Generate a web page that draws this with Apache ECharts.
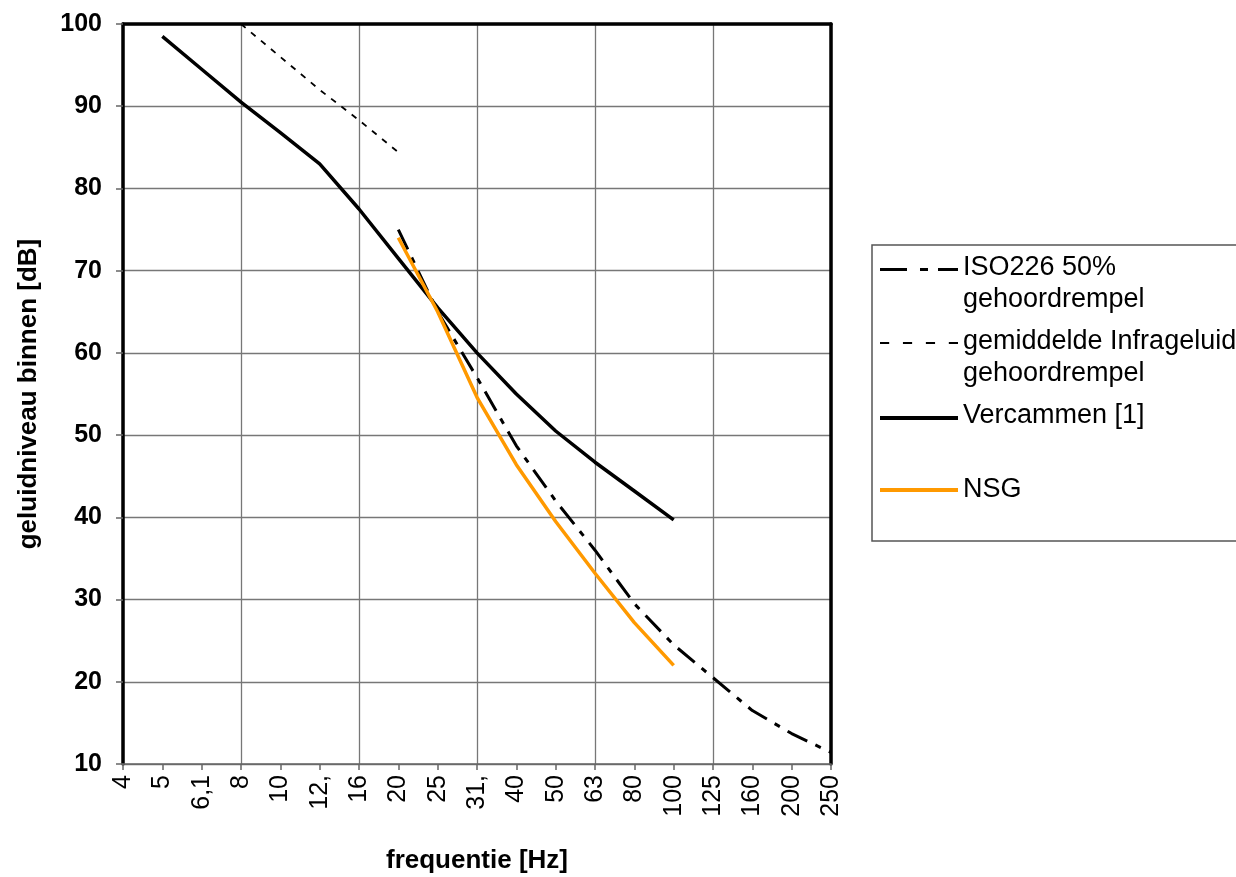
<!DOCTYPE html>
<html>
<head>
<meta charset="utf-8">
<script src="https://cdn.jsdelivr.net/npm/echarts@6/dist/echarts.min.js"></script>
<style>
html,body{margin:0;padding:0;background:#fff;}
#chart{width:1236px;height:877px;}
</style>
</head>
<body>
<div id="chart"></div>
<script>
const categories = ['4','5','6,1','8','10','12,','16','20','25','31,','40','50','63','80','100','125','160','200','250'];
const iso226 = [null,null,null,null,null,null,null,75,65,57,48.7,42,36,29.5,24.5,20.5,16.5,13.7,11.4];
const infrageluid = [null,null,null,100,96,92,88.3,84.4,null,null,null,null,null,null,null,null,null,null,null];
const vercammen = [null,98.5,94.5,90.5,86.8,83,77.5,71.5,65.5,60,55,50.5,46.7,43.2,39.7,null,null,null,null];
const nsg = [null,null,null,null,null,null,null,74,65,54.6,46.4,39.5,33.2,27.2,22,null,null,null,null];
const yTicks = {min:10, max:100, interval:10};
const seriesNames = ['ISO226 50%\ngehoordrempel','gemiddelde Infrageluid\ngehoordrempel','Vercammen [1]\n ','NSG'];

const FONT = 'Liberation Sans, Arial, sans-serif';
const chart = echarts.init(document.getElementById('chart'), null, {renderer:'canvas'});
const bbox = ' M0,32h0.1v0.1h-0.1z';
const option = {
  backgroundColor:'#fff',
  animation:false,
  grid:{left:123, right:405, top:24, bottom:113, containLabel:false, outerBoundsMode:'none'},
  legend:{
    orient:'vertical', left:872, top:245,
    padding:[7,30,35,8], itemGap:10,
    borderColor:'#555', borderWidth:1.5, backgroundColor:'#fff',
    itemWidth:78, itemHeight:32, symbolKeepAspect:false,
    textStyle:{fontFamily:FONT, fontSize:27, color:'#000', lineHeight:32},
    data:[
      {name:seriesNames[0], icon:'path://M0,0h27v3h-27z M40,0h8v3h-8z M58,0h20v3h-20z'+bbox, itemStyle:{borderWidth:0, color:'#000'}},
      {name:seriesNames[1], icon:'path://M0,0h8v2h-8z M20,0h8v2h-8z M40,0h8v2h-8z M60,0h8v2h-8z'+bbox, itemStyle:{borderWidth:0, color:'#000'}},
      {name:seriesNames[2], icon:'path://M0,0h78v4h-78z'+bbox, itemStyle:{borderWidth:0, color:'#000'}},
      {name:seriesNames[3], icon:'path://M0,0h0.1v0.1h-0.1z M0,14h78v4h-78z'+bbox, itemStyle:{borderWidth:0, color:'#FF9900'}}
    ]
  },
  xAxis:[{
    type:'category', data:categories, boundaryGap:false, position:'bottom',
    name:'frequentie [Hz]', nameLocation:'middle', nameGap:84,
    nameTextStyle:{fontFamily:FONT, fontSize:26, fontWeight:'bold', color:'#000'},
    axisLine:{lineStyle:{color:'#666', width:1.5}},
    axisTick:{show:true, interval:0, length:6, lineStyle:{color:'#666', width:1.5}},
    axisLabel:{interval:0, rotate:90, margin:11, fontFamily:FONT, fontSize:25, color:'#000'},
    splitLine:{show:true, interval:function(i){return i%3===0;}, lineStyle:{color:'#777', width:1.3}}
  },{
    type:'category', data:categories, boundaryGap:false, position:'top',
    axisLine:{lineStyle:{color:'#000', width:3.5}}, axisTick:{show:false}, axisLabel:{show:false}, splitLine:{show:false}
  }],
  yAxis:[{
    type:'value', min:yTicks.min, max:yTicks.max, interval:yTicks.interval,
    name:'geluidniveau binnen [dB]', nameLocation:'middle', nameGap:81,
    nameTextStyle:{fontFamily:FONT, fontSize:26, fontWeight:'bold', color:'#000'},
    axisLine:{show:true, lineStyle:{color:'#000', width:3.5}},
    axisTick:{show:true, length:7, lineStyle:{color:'#666', width:1.5}},
    axisLabel:{fontFamily:FONT, fontSize:25, fontWeight:'bold', color:'#000', margin:21},
    splitLine:{show:true, lineStyle:{color:'#777', width:1.3}}
  },{
    type:'value', min:yTicks.min, max:yTicks.max, interval:yTicks.interval, position:'right',
    axisLine:{show:true, lineStyle:{color:'#000', width:3.5}}, axisTick:{show:false}, axisLabel:{show:false}, splitLine:{show:false}
  }],
  series:[
    {name:seriesNames[0], type:'line', data:iso226, showSymbol:false, symbol:'none', connectNulls:false,
     color:'#000', lineStyle:{color:'#000', width:3, type:[22,9,6,9]}},
    {name:seriesNames[1], type:'line', data:infrageluid, showSymbol:false, symbol:'none',
     color:'#000', lineStyle:{color:'#000', width:1.8, type:[6,7]}},
    {name:seriesNames[2], type:'line', data:vercammen, showSymbol:false, symbol:'none',
     color:'#000', lineStyle:{color:'#000', width:3.5}},
    {name:seriesNames[3], type:'line', data:nsg, showSymbol:false, symbol:'none',
     color:'#FF9900', lineStyle:{color:'#FF9900', width:3.5}}
  ]
};
chart.setOption(option);
</script>
</body>
</html>
